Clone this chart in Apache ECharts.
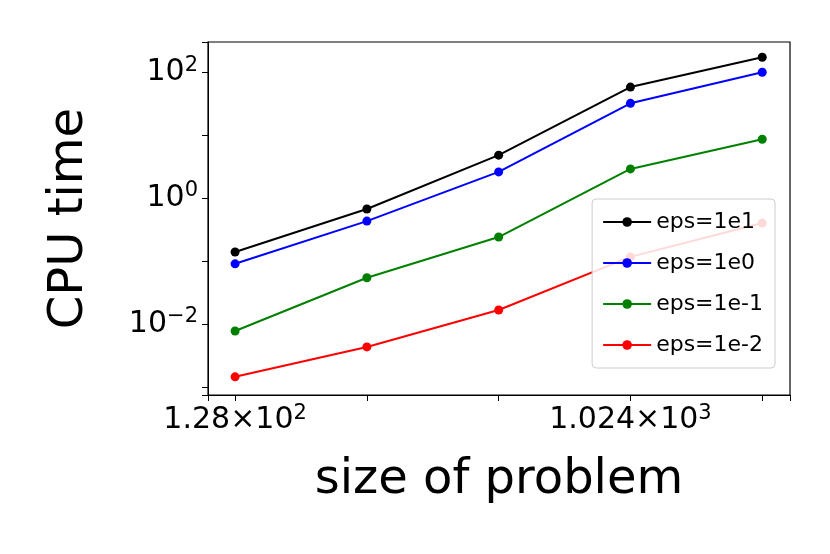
<!DOCTYPE html>
<html><head><meta charset="utf-8">
<script src="https://cdn.jsdelivr.net/npm/echarts@6/dist/echarts.min.js"></script>
<style>html,body{margin:0;background:#fff}#c{width:830px;height:554px}</style>
</head><body><div id="c"></div>
<script>
var sizes = [128, 256, 512, 1024, 2048];
var eps1e1 = [0.139, 0.67, 4.8, 58, 173];
var eps1e0 = [0.09, 0.43, 2.6, 32, 100];
var eps1em1 = [0.0077, 0.054, 0.24, 2.9, 8.6];
var eps1em2 = [0.00144, 0.0043, 0.0166, 0.116, 0.40];
var names = ['eps=1e1', 'eps=1e0', 'eps=1e-1', 'eps=1e-2'];
var colors = ['#000000', '#0000ff', '#008000', '#ff0000'];
var all = [eps1e1, eps1e0, eps1em1, eps1em2];

var font = 'DejaVu Sans';
var chart = echarts.init(document.getElementById('c'));
chart.setOption({
    animation: false,
    textStyle: {fontFamily: font},
    grid: {left: 208, top: 42, width: 582, height: 353, show: true, borderColor: '#000', borderWidth: 1.2},
    legend: {
        orient: 'vertical', right: 55, top: 199, itemGap: 19,
        itemWidth: 48, itemHeight: 12,
        backgroundColor: 'rgba(255,255,255,0.85)', borderColor: '#ccc', borderWidth: 1, borderRadius: 4,
        padding: [12, 12, 12, 10],
        textStyle: {fontSize: 22, color: '#000', fontFamily: font},
        data: names
    },
    xAxis: {
        type: 'log', logBase: 2, min: 111, max: 2370,
        name: 'size of problem', nameLocation: 'middle', nameGap: 62,
        nameTextStyle: {fontSize: 48, color: '#000'},
        axisLine: {lineStyle: {color: '#000'}},
        axisTick: {length: 6, lineStyle: {color: '#000'}},
        splitLine: {show: false},
        axisLabel: {
            fontSize: 30, color: '#000', margin: 8,
            formatter: function (v) {
                if (Math.abs(v - 128) < 1) return '1.28×10{s|2}';
                if (Math.abs(v - 1024) < 1) return '1.024×10{s|3}';
                return '';
            },
            rich: {s: {fontSize: 21, verticalAlign: 'top', padding: [0, 0, 14, 0]}}
        }
    },
    yAxis: {
        type: 'log', logBase: 10, min: 0.00074, max: 302,
        name: 'CPU time', nameLocation: 'middle', nameGap: 114,
        nameTextStyle: {fontSize: 48, color: '#000'},
        axisLine: {lineStyle: {color: '#000'}},
        axisTick: {length: 6, lineStyle: {color: '#000'}},
        splitLine: {show: false},
        axisLabel: {
            fontSize: 30, color: '#000', margin: 10,
            formatter: function (v) {
                var l = Math.log10(v), e = Math.round(l);
                if (Math.abs(l - e) > 0.01 || e % 2 !== 0) return '';
                return '10{s|' + (e < 0 ? '−' + (-e) : e) + '}';
            },
            rich: {s: {fontSize: 21, verticalAlign: 'top', padding: [0, 0, 14, 0]}}
        }
    },
    series: all.map(function (d, i) {
        return {
            name: names[i], type: 'line', symbol: 'circle', symbolSize: 9,
            color: colors[i], lineStyle: {width: 2, color: colors[i]},
            data: sizes.map(function (s, j) { return [s, d[j]]; })
        };
    })
});
</script></body></html>
